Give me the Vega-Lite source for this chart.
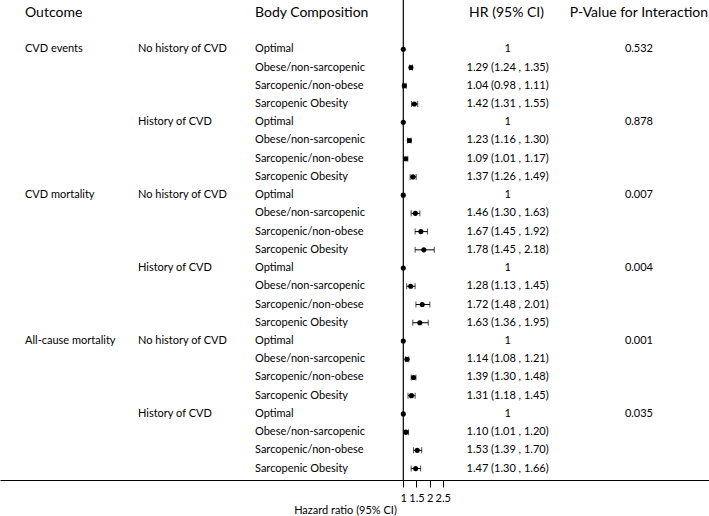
{
  "$schema": "https://vega.github.io/schema/vega-lite/v6.json",
  "width": 709,
  "height": 480,
  "autosize": {"type": "none"},
  "padding": {"left": 0, "top": 0, "right": 0, "bottom": 36},
  "background": "white",
  "config": {
    "view": {"stroke": null},
    "font": "Lato",
    "text": {"font": "Lato", "fontSize": 11, "color": "#000000"},
    "axisX": {
      "grid": false,
      "domainColor": "#000000",
      "domainWidth": 1.2,
      "tickColor": "#000000",
      "tickSize": 7,
      "labelFont": "Lato",
      "labelFontSize": 11,
      "labelColor": "#000000",
      "labelPadding": 5,
      "labelFlush": false,
      "labelOverlap": false,
      "titleFont": "Lato",
      "titleFontSize": 11,
      "titleFontWeight": "normal",
      "titleColor": "#000000",
      "titleX": 345,
      "titleY": 30,
      "titleAlign": "center",
      "titleBaseline": "middle"
    }
  },
  "datasets": {
    "rows": [
      {"row": 0, "outcome": "CVD events", "history": "No history of CVD", "body": "Optimal", "hr": 1, "lo": null, "hi": null, "label": "1", "p": "0.532"},
      {"row": 1, "outcome": "CVD events", "history": "No history of CVD", "body": "Obese/non-sarcopenic", "hr": 1.29, "lo": 1.24, "hi": 1.35, "label": "1.29 (1.24 , 1.35)", "p": null},
      {"row": 2, "outcome": "CVD events", "history": "No history of CVD", "body": "Sarcopenic/non-obese", "hr": 1.04, "lo": 0.98, "hi": 1.11, "label": "1.04 (0.98 , 1.11)", "p": null},
      {"row": 3, "outcome": "CVD events", "history": "No history of CVD", "body": "Sarcopenic Obesity", "hr": 1.42, "lo": 1.31, "hi": 1.55, "label": "1.42 (1.31 , 1.55)", "p": null},
      {"row": 4, "outcome": "CVD events", "history": "History of CVD", "body": "Optimal", "hr": 1, "lo": null, "hi": null, "label": "1", "p": "0.878"},
      {"row": 5, "outcome": "CVD events", "history": "History of CVD", "body": "Obese/non-sarcopenic", "hr": 1.23, "lo": 1.16, "hi": 1.30, "label": "1.23 (1.16 , 1.30)", "p": null},
      {"row": 6, "outcome": "CVD events", "history": "History of CVD", "body": "Sarcopenic/non-obese", "hr": 1.09, "lo": 1.01, "hi": 1.17, "label": "1.09 (1.01 , 1.17)", "p": null},
      {"row": 7, "outcome": "CVD events", "history": "History of CVD", "body": "Sarcopenic Obesity", "hr": 1.37, "lo": 1.26, "hi": 1.49, "label": "1.37 (1.26 , 1.49)", "p": null},
      {"row": 8, "outcome": "CVD mortality", "history": "No history of CVD", "body": "Optimal", "hr": 1, "lo": null, "hi": null, "label": "1", "p": "0.007"},
      {"row": 9, "outcome": "CVD mortality", "history": "No history of CVD", "body": "Obese/non-sarcopenic", "hr": 1.46, "lo": 1.30, "hi": 1.63, "label": "1.46 (1.30 , 1.63)", "p": null},
      {"row": 10, "outcome": "CVD mortality", "history": "No history of CVD", "body": "Sarcopenic/non-obese", "hr": 1.67, "lo": 1.45, "hi": 1.92, "label": "1.67 (1.45 , 1.92)", "p": null},
      {"row": 11, "outcome": "CVD mortality", "history": "No history of CVD", "body": "Sarcopenic Obesity", "hr": 1.78, "lo": 1.45, "hi": 2.18, "label": "1.78 (1.45 , 2.18)", "p": null},
      {"row": 12, "outcome": "CVD mortality", "history": "History of CVD", "body": "Optimal", "hr": 1, "lo": null, "hi": null, "label": "1", "p": "0.004"},
      {"row": 13, "outcome": "CVD mortality", "history": "History of CVD", "body": "Obese/non-sarcopenic", "hr": 1.28, "lo": 1.13, "hi": 1.45, "label": "1.28 (1.13 , 1.45)", "p": null},
      {"row": 14, "outcome": "CVD mortality", "history": "History of CVD", "body": "Sarcopenic/non-obese", "hr": 1.72, "lo": 1.48, "hi": 2.01, "label": "1.72 (1.48 , 2.01)", "p": null},
      {"row": 15, "outcome": "CVD mortality", "history": "History of CVD", "body": "Sarcopenic Obesity", "hr": 1.63, "lo": 1.36, "hi": 1.95, "label": "1.63 (1.36 , 1.95)", "p": null},
      {"row": 16, "outcome": "All-cause mortality", "history": "No history of CVD", "body": "Optimal", "hr": 1, "lo": null, "hi": null, "label": "1", "p": "0.001"},
      {"row": 17, "outcome": "All-cause mortality", "history": "No history of CVD", "body": "Obese/non-sarcopenic", "hr": 1.14, "lo": 1.08, "hi": 1.21, "label": "1.14 (1.08 , 1.21)", "p": null},
      {"row": 18, "outcome": "All-cause mortality", "history": "No history of CVD", "body": "Sarcopenic/non-obese", "hr": 1.39, "lo": 1.30, "hi": 1.48, "label": "1.39 (1.30 , 1.48)", "p": null},
      {"row": 19, "outcome": "All-cause mortality", "history": "No history of CVD", "body": "Sarcopenic Obesity", "hr": 1.31, "lo": 1.18, "hi": 1.45, "label": "1.31 (1.18 , 1.45)", "p": null},
      {"row": 20, "outcome": "All-cause mortality", "history": "History of CVD", "body": "Optimal", "hr": 1, "lo": null, "hi": null, "label": "1", "p": "0.035"},
      {"row": 21, "outcome": "All-cause mortality", "history": "History of CVD", "body": "Obese/non-sarcopenic", "hr": 1.10, "lo": 1.01, "hi": 1.20, "label": "1.10 (1.01 , 1.20)", "p": null},
      {"row": 22, "outcome": "All-cause mortality", "history": "History of CVD", "body": "Sarcopenic/non-obese", "hr": 1.53, "lo": 1.39, "hi": 1.70, "label": "1.53 (1.39 , 1.70)", "p": null},
      {"row": 23, "outcome": "All-cause mortality", "history": "History of CVD", "body": "Sarcopenic Obesity", "hr": 1.47, "lo": 1.30, "hi": 1.66, "label": "1.47 (1.30 , 1.66)", "p": null}
    ]
  },
  "data": {"name": "rows"},
  "layer": [
    {
      "data": {"values": [{"ref": 1}]},
      "mark": {"type": "rule", "color": "#000000", "strokeWidth": 1.2},
      "encoding": {
        "x": {"field": "ref", "type": "quantitative", "title": "Hazard ratio (95% CI)",
              "scale": {"domain": [-14.352, 12.637], "nice": false, "zero": false},
              "axis": {"values": [1, 1.5, 2, 2.5], "format": "~g"}}
      }
    },
    {
      "transform": [{"filter": "isValid(datum.lo)"}],
      "mark": {"type": "rule", "color": "#000000", "strokeWidth": 1},
      "encoding": {
        "x": {"field": "lo", "type": "quantitative", "title": "Hazard ratio (95% CI)"},
        "x2": {"field": "hi"},
        "y": {"field": "row", "type": "quantitative", "axis": null,
              "scale": {"domain": [-2.704, 23.626], "reverse": true, "nice": false, "zero": false}}
      }
    },
    {
      "transform": [{"filter": "isValid(datum.lo)"}],
      "mark": {"type": "tick", "orient": "vertical", "color": "#000000", "size": 6, "thickness": 1},
      "encoding": {
        "x": {"field": "lo", "type": "quantitative", "title": "Hazard ratio (95% CI)"},
        "y": {"field": "row", "type": "quantitative"}
      }
    },
    {
      "transform": [{"filter": "isValid(datum.hi)"}],
      "mark": {"type": "tick", "orient": "vertical", "color": "#000000", "size": 6, "thickness": 1},
      "encoding": {
        "x": {"field": "hi", "type": "quantitative", "title": "Hazard ratio (95% CI)"},
        "y": {"field": "row", "type": "quantitative"}
      }
    },
    {
      "mark": {"type": "point", "filled": true, "color": "#000000", "opacity": 1, "size": 26},
      "encoding": {
        "x": {"field": "hr", "type": "quantitative", "title": "Hazard ratio (95% CI)"},
        "y": {"field": "row", "type": "quantitative"}
      }
    },
    {
      "transform": [{"filter": "datum.body === 'Optimal' && datum.history === 'No history of CVD'"}],
      "mark": {"type": "text", "align": "left", "baseline": "middle"},
      "encoding": {
        "x": {"datum": -13.4},
        "y": {"field": "row", "type": "quantitative"},
        "text": {"field": "outcome"}
      }
    },
    {
      "transform": [{"filter": "datum.body === 'Optimal'"}],
      "mark": {"type": "text", "align": "left", "baseline": "middle"},
      "encoding": {
        "x": {"datum": -9.1},
        "y": {"field": "row", "type": "quantitative"},
        "text": {"field": "history"}
      }
    },
    {
      "mark": {"type": "text", "align": "left", "baseline": "middle"},
      "encoding": {
        "x": {"datum": -4.645},
        "y": {"field": "row", "type": "quantitative"},
        "text": {"field": "body"}
      }
    },
    {
      "mark": {"type": "text", "align": "center", "baseline": "middle"},
      "encoding": {
        "x": {"datum": 4.97},
        "y": {"field": "row", "type": "quantitative"},
        "text": {"field": "label"}
      }
    },
    {
      "transform": [{"filter": "isValid(datum.p)"}],
      "mark": {"type": "text", "align": "center", "baseline": "middle"},
      "encoding": {
        "x": {"datum": 9.97},
        "y": {"field": "row", "type": "quantitative"},
        "text": {"field": "p"}
      }
    },
    {
      "data": {"values": [{"h": "Outcome"}]},
      "mark": {"type": "text", "align": "left", "baseline": "middle", "fontSize": 14},
      "encoding": {"x": {"datum": -13.4}, "y": {"datum": -1.975}, "text": {"field": "h"}}
    },
    {
      "data": {"values": [{"h": "Body Composition"}]},
      "mark": {"type": "text", "align": "left", "baseline": "middle", "fontSize": 14},
      "encoding": {"x": {"datum": -4.645}, "y": {"datum": -1.975}, "text": {"field": "h"}}
    },
    {
      "data": {"values": [{"h": "HR (95% CI)"}]},
      "mark": {"type": "text", "align": "center", "baseline": "middle", "fontSize": 14},
      "encoding": {"x": {"datum": 4.93}, "y": {"datum": -1.975}, "text": {"field": "h"}}
    },
    {
      "data": {"values": [{"h": "P-Value for Interaction"}]},
      "mark": {"type": "text", "align": "center", "baseline": "middle", "fontSize": 14},
      "encoding": {"x": {"datum": 9.97}, "y": {"datum": -1.975}, "text": {"field": "h"}}
    }
  ]
}
